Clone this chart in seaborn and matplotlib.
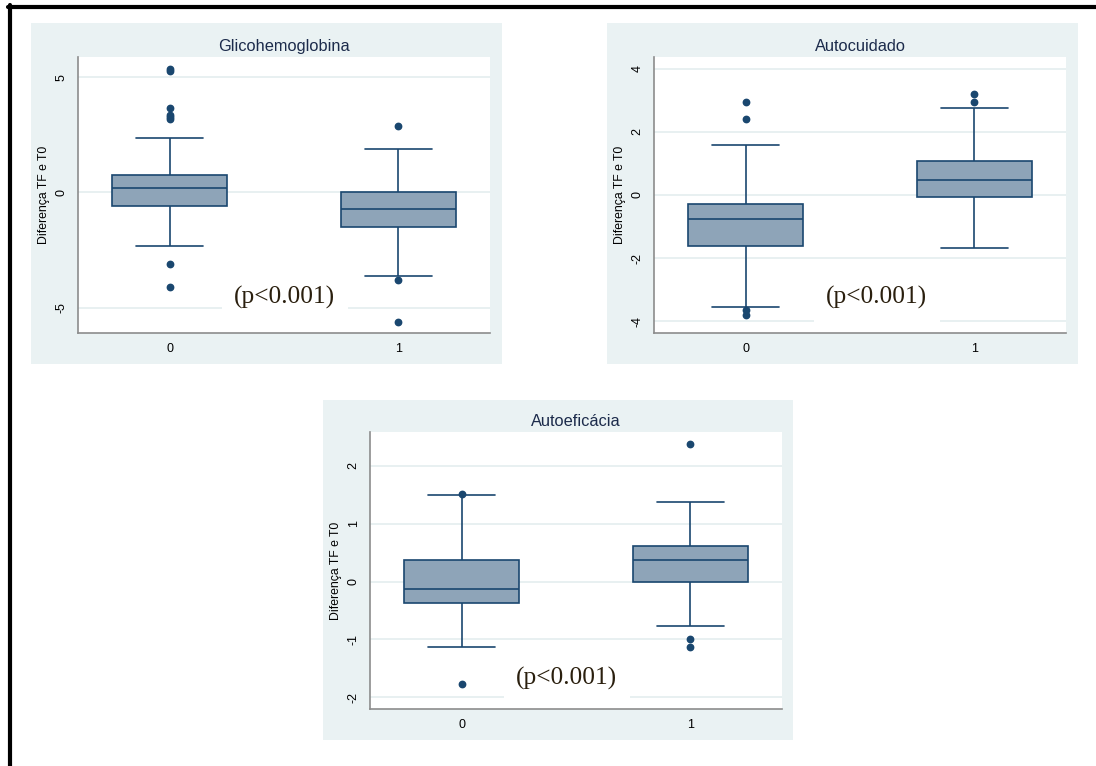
import matplotlib
matplotlib.use('Agg')
import matplotlib.pyplot as plt
from matplotlib.patches import Rectangle
from matplotlib.lines import Line2D
import numpy as np
import pandas as pd
import seaborn as sns

# Grupos (0 / 1)
grupos = ['0', '1']

# Glicohemoglobina: quartis, bigodes e outliers por grupo
glico_q1 = [-0.59, -1.50]
glico_med = [0.19, -0.72]
glico_q3 = [0.77, 0.00]
glico_wlo = [-2.31, -3.63]
glico_whi = [2.37, 1.89]
glico_out = [[5.36, 5.29, 3.68, 3.37, 3.27, 3.18, -3.12, -4.12],
             [2.88, -3.80, -5.62]]

# Autocuidado
auto_q1 = [-1.60, -0.05]
auto_med = [-0.77, 0.46]
auto_q3 = [-0.27, 1.08]
auto_wlo = [-3.56, -1.68]
auto_whi = [1.59, 2.74]
auto_out = [[2.93, 2.42, -3.63, -3.79],
            [3.19, 2.95]]

# Autoeficacia
efic_q1 = [-0.37, 0.00]
efic_med = [-0.13, 0.37]
efic_q3 = [0.375, 0.62]
efic_wlo = [-1.13, -0.76]
efic_whi = [1.49, 1.37]
efic_out = [[1.51, -1.76],
            [2.37, -1.00, -1.13]]

W, H = 1096, 766
BG = '#eaf2f3'
NAVY = '#1a476f'
FILL = '#8ea4b8'


def sample_from_summary(q1, med, q3, wlo, whi, outliers):
    # builds 4k+1 sorted values so that np.percentile gives q1/med/q3 exactly
    low = sorted([o for o in outliers if o < q1]) + [wlo]
    high = [whi] + sorted([o for o in outliers if o > q3])
    k = max(len(low), len(high))
    vals = low + [q1] * (k - len(low) + 1) + [med] * k + [q3] * k
    vals += [q3] * (k - len(high)) + high
    return vals


def build_frame(q1s, meds, q3s, wlos, whis, outs):
    rows = []
    for i, g in enumerate(grupos):
        for v in sample_from_summary(q1s[i], meds[i], q3s[i], wlos[i], whis[i], outs[i]):
            rows.append({'grupo': g, 'diferenca': v})
    return pd.DataFrame(rows)


def px_axes(fig, x0, y0, x1, y1):
    return fig.add_axes([x0 / W, 1 - y1 / H, (x1 - x0) / W, (y1 - y0) / H])


def panel_bg(fig, x0, y0, x1, y1):
    fig.patches.append(Rectangle((x0 / W, 1 - y1 / H), (x1 - x0) / W, (y1 - y0) / H,
                                 transform=fig.transFigure, facecolor=BG,
                                 edgecolor='none', zorder=-10))


def draw_panel(ax, df, title, ylim, yticks, ptxt_xy):
    sns.boxplot(data=df, x='grupo', y='diferenca', order=grupos, ax=ax,
                width=0.5, color=FILL, saturation=1, linecolor=NAVY,
                linewidth=1.2, capwidths=0.29,
                flierprops=dict(marker='o', markersize=4.6, markerfacecolor=NAVY,
                                markeredgecolor=NAVY))
    ax.set_xlim(-0.4, 1.4)
    ax.set_ylim(*ylim)
    ax.set_yticks(yticks)
    ax.set_yticklabels([str(t) for t in yticks], rotation=90, va='center')
    ax.set_facecolor('white')
    ax.grid(axis='y', color='#e4edef', linewidth=1.2)
    ax.grid(axis='x', visible=False)
    ax.set_axisbelow(True)
    for s in ['top', 'right']:
        ax.spines[s].set_visible(False)
    for s in ['left', 'bottom']:
        ax.spines[s].set_color('#8c8c8c')
        ax.spines[s].set_linewidth(1.2)
    ax.tick_params(axis='y', length=3.5, width=1, color='#8c8c8c', pad=4,
                   labelsize=9, labelcolor='black')
    ax.tick_params(axis='x', length=0, pad=7, labelsize=9, labelcolor='black')
    ax.set_xlabel('')
    ax.set_ylabel('Diferença TF e T0', fontsize=8.8, color='black')
    ax.yaxis.set_label_coords(-0.067, 0.5)
    ax.set_title(title, fontsize=11.8, color='#1c2b4b', pad=4)
    ax.text(ptxt_xy[0], ptxt_xy[1], '(p<0.001)', transform=ax.transAxes,
            ha='center', va='center', fontsize=18.3, family='Liberation Serif',
            color='#2a1f0e', zorder=5,
            bbox=dict(facecolor='white', edgecolor='none', pad=9))


sns.set_theme(style='white')
plt.rcParams['font.family'] = ['Liberation Sans', 'DejaVu Sans']
plt.rcParams['axes.unicode_minus'] = False

fig = plt.figure(figsize=(W / 100, H / 100), dpi=100)
fig.patch.set_facecolor('white')

# black frame (top and left only)
fig.add_artist(Line2D([8 / W, 1], [1 - 7 / H, 1 - 7 / H], color='black',
                      linewidth=3, transform=fig.transFigure))
fig.add_artist(Line2D([10 / W, 10 / W], [1 - 5 / H, 0], color='black',
                      linewidth=3, transform=fig.transFigure))

panel_bg(fig, 31, 23, 502, 364)
panel_bg(fig, 607, 23, 1078, 364)
panel_bg(fig, 323, 400, 793, 740)

ax1 = px_axes(fig, 78, 57, 490, 333)
ax2 = px_axes(fig, 654, 57, 1066, 333)
ax3 = px_axes(fig, 370, 432, 782, 709)

draw_panel(ax1, build_frame(glico_q1, glico_med, glico_q3, glico_wlo, glico_whi, glico_out),
           'Glicohemoglobina', (-6.1, 5.88), [-5, 0, 5], (0.502, 0.127))
draw_panel(ax2, build_frame(auto_q1, auto_med, auto_q3, auto_wlo, auto_whi, auto_out),
           'Autocuidado', (-4.37, 4.37), [-4, -2, 0, 2, 4], (0.541, 0.127))
draw_panel(ax3, build_frame(efic_q1, efic_med, efic_q3, efic_wlo, efic_whi, efic_out),
           'Autoeficácia', (-2.2, 2.58), [-2, -1, 0, 1, 2], (0.478, 0.112))

fig.savefig('out.png', dpi=100)
